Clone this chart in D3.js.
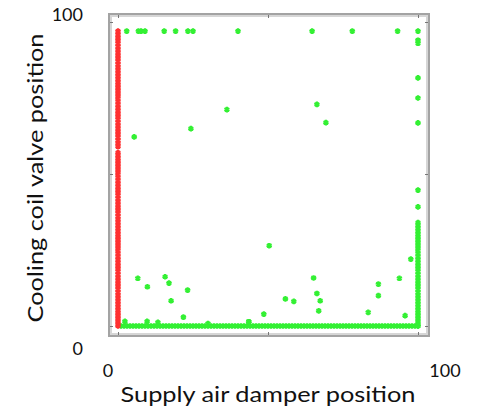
<!DOCTYPE html>
<html>
<head>
<meta charset="utf-8">
<script src="https://cdn.jsdelivr.net/npm/d3@7"></script>
<style>
  html, body { margin: 0; padding: 0; background: #fff; }
  svg { display: block; }
  text { font-family: Lato, "Open Sans", sans-serif; fill: #111; }
</style>
</head>
<body>
<svg id="chart" width="479" height="411"></svg>
<script>
// Valve positions recorded while the supply air damper sits at 0 %
const redValve = [0,1,2,3,4,5,6,7,8,9,10,11,12,13,14,15,16,17,18,19,20,21,22,23,24,25,26,27,28,29,
  30,31,32,33,34,35,36,37,38,39,40,41,42,43,44,45,46,47,48,49,50,51,52,53,54,55,56,57,59,60,61,62,63,64,
  65,66,67,68,69,70,71,72,73,74,75,76,77,78,79,80,81,82,83,84,85,86,87,88,89,90,91,92,93,94,95,96,97];

// Damper positions recorded while the cooling coil valve is closed
const greenBottomDamper = [1,2,3,4,5,6,7,8,9,10,11,12,13,14,15,16,17,18,19,20,21,22,23,24,25,26,27,28,29,30,
  31,32,33,34,35,36,37,38,39,40,41,42,43,44,45,46,47,48,49,50,51,52,53,54,55,56,57,58,59,60,61,62,63,64,65,
  66,67,68,69,70,71,72,73,74,75,76,77,78,79,80,81,82,83,84,85,86,87,88,89,90,91,92,93,94,95,96,97,98,99,100];

// Valve positions recorded while the damper is fully open
const greenRightValve = [0,1,2,3,4,5,6,7,8,9,10,11,12,13,14,15,16,17,18,19,20,21,22,23,24,25,26,27,28,29,30,
  31,32,33,34,39.2,44.7,66.8,75,81.6,93,94,97];

// Remaining normal-operation samples
const greenScatterDamper = [2.9,6.8,7.7,9,15.4,19.2,23.3,25,40,64.7,78.1,93.2,
  24.3,5.4,36.3,66.3,69.3,
  6.6,9.8,15.7,17,23.2,17.7,21.8,
  50.4,65.2,55.8,58.6,66.3,67.4,66.9,48.6,43.6,
  86.8,86.8,93.8,97.6,83.4,95.7,
  2.3,9.7,13.3,30,43.6];
const greenScatterValve = [97,97,97,97,97,97,97,97,97,97,97,97,
  64.9,62.2,71.2,72.9,66.9,
  15.7,12.9,16.2,14.1,11.8,8.3,2.9,
  26.4,15.8,8.9,8.1,10.7,8.3,5,3.9,1.4,
  13.8,10,15.7,22,4.5,3.4,
  1.5,1.5,1.2,0.8,1.4];

const axisTicks = [0, 50, 100];
const tickLabels = ["0", "100"];
const xTitle = "Supply air damper position";
const yTitle = "Cooling coil valve position";

const svg = d3.select("#chart");

const x = d3.scaleLinear().domain([0, 100]).range([118, 418]);
const y = d3.scaleLinear().domain([0, 100]).range([326, 22]);

// Plot frame: dark outer edge with a lighter inner band
const frame = { x0: 108, x1: 430, y0: 13, y1: 337 };
svg.append("rect")
  .attr("x", frame.x0 + 1).attr("y", frame.y0 + 1)
  .attr("width", frame.x1 - frame.x0 - 2).attr("height", frame.y1 - frame.y0 - 2)
  .attr("fill", "#fff").attr("stroke", "#a3a3a3").attr("stroke-width", 2);
svg.append("rect")
  .attr("x", frame.x0 + 3).attr("y", frame.y0 + 3)
  .attr("width", frame.x1 - frame.x0 - 6).attr("height", frame.y1 - frame.y0 - 6)
  .attr("fill", "none").attr("stroke", "#d6d6d6").attr("stroke-width", 2);

// Small tick marks on all four sides of the frame
function ticks(axis, transform) {
  const g = svg.append("g").attr("transform", transform)
    .call(axis.tickValues(axisTicks).tickSize(-3).tickFormat(""));
  g.select(".domain").remove();
  g.selectAll(".tick line").attr("stroke", "#777").attr("stroke-width", 1);
}
ticks(d3.axisBottom(x), `translate(0,${frame.y1 - 2})`);
ticks(d3.axisTop(x), `translate(0,${frame.y0 + 2})`);
ticks(d3.axisLeft(y), `translate(${frame.x0 + 2},0)`);
ticks(d3.axisRight(y), `translate(${frame.x1 - 2},0)`);

// Assemble the two series
const redPts = redValve.map(v => [0, v]);
const greenPts = [
  ...greenBottomDamper.map(d => [d, 0]),
  ...greenRightValve.map(v => [100, v]),
  ...greenScatterDamper.map((d, i) => [d, greenScatterValve[i]])
];

const marker = d3.symbol().type(d3.symbolAsterisk).size(22);

function drawSeries(pts, color) {
  svg.append("g").selectAll("path").data(pts).join("path")
    .attr("d", marker)
    .attr("transform", d => `translate(${x(d[0])},${y(d[1])})`)
    .attr("fill", "none")
    .attr("stroke", color)
    .attr("stroke-width", 2.2);
}
drawSeries(greenPts, "#33f033");
drawSeries(redPts, "#ff3030");

// Tick labels sit outside the frame corners
const xLabel = d3.scaleLinear().domain([0, 100]).range([108, 445]);
const yLabel = d3.scaleLinear().domain([0, 100]).range([355, 21]);
svg.append("g").selectAll("text").data(tickLabels).join("text")
  .attr("x", d => xLabel(+d)).attr("y", 377)
  .attr("text-anchor", "middle").attr("font-size", 18)
  .text(d => d);
svg.append("g").selectAll("text").data(tickLabels).join("text")
  .attr("x", 83).attr("y", d => yLabel(+d))
  .attr("text-anchor", "end").attr("font-size", 18)
  .text(d => d);

// Axis titles
svg.append("text")
  .attr("x", 268).attr("y", 402)
  .attr("text-anchor", "middle").attr("font-size", 21.5)
  .attr("textLength", 295).attr("lengthAdjust", "spacingAndGlyphs")
  .text(xTitle);
svg.append("text")
  .attr("transform", "translate(43,178) rotate(-90)")
  .attr("text-anchor", "middle").attr("font-size", 21.5)
  .attr("textLength", 289).attr("lengthAdjust", "spacingAndGlyphs")
  .text(yTitle);
</script>
</body>
</html>
